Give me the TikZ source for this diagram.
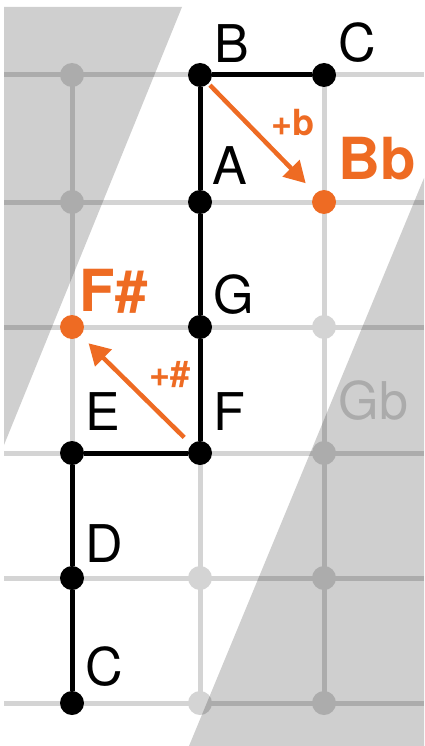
\documentclass[tikz,border=0pt]{standalone}
\usepackage{fontspec}
\setmainfont{TeX Gyre Heros}
\usetikzlibrary{arrows.meta,positioning}

\definecolor{gridgray}{HTML}{D4D4D4}
\definecolor{shadegray}{HTML}{CFCFCF}
\definecolor{noteorange}{HTML}{EE6B23}
\definecolor{fadegray}{HTML}{ABABAB}

\begin{document}
\begin{tikzpicture}[
  x=1pt, y=-1pt,
  node distance=4pt and 6pt,
  dot/.style={circle, fill=black, inner sep=0pt, minimum size=24pt},
  ghost/.style={dot, fill=gridgray},
  pick/.style={dot, fill=noteorange},
  gridline/.style={draw=gridgray, line width=5pt},
  walk/.style={draw=black, line width=5pt},
  arr/.style={-{Triangle[length=21pt,width=23pt]}, draw=noteorange, line width=4.5pt},
  note/.style={inner sep=0pt, font=\fontsize{52}{52}\selectfont},
  acc/.style={inner sep=0pt, text=noteorange, font=\fontsize{58}{58}\selectfont\bfseries},
  sign/.style={inner sep=0pt, text=noteorange, font=\fontsize{36}{36}\selectfont\bfseries}
]
\useasboundingbox (0,0) rectangle (424,746);

% grid
\foreach \r/\y in {1/75,2/202,3/327,4/453,5/578,6/703} {
  \coordinate (w\r) at (4,\y);
  \coordinate (e\r) at (424,\y);
  \draw[gridline] (w\r) -- (e\r);
}
\foreach \c/\x in {1/72,2/200,3/324} {
  \coordinate (t\c) at (\x,75);
  \coordinate (b\c) at (\x,703);
  \draw[gridline] (t\c) -- (b\c);
}
\foreach \n/\x/\y in {11/72/75, 12/72/202, 33/324/327, 34/324/453,
                      25/200/578, 35/324/578, 26/200/703, 36/324/703}
  \node[ghost] (g\n) at (\x,\y) {};

% shaded bands
\begin{scope}[blend mode=multiply]
  \fill[shadegray] (4,7) -- (182,7) -- (4,445) -- cycle;
  \fill[shadegray] (424,178) -- (424,746) -- (189,746) -- cycle;
\end{scope}

% scale walk
\node[dot] (c0) at (72,703) {};
\node[dot] (d)  at (72,578) {};
\node[dot] (e)  at (72,453) {};
\node[dot] (f)  at (200,453) {};
\node[dot] (g)  at (200,327) {};
\node[dot] (a)  at (200,202) {};
\node[dot] (b)  at (200,75) {};
\node[dot] (c1) at (324,75) {};
\draw[walk] (c0) -- (d) -- (e) -- (f) -- (g) -- (a) -- (b) -- (c1);

\node[note, above right=8pt and 5pt of c0] {C};
\node[note, above right=7pt and 5pt of d]  {D};
\node[note, above right=14pt and 5pt of e] {E};
\node[note, above right=14pt and 5pt of f] {F};
\node[note, above right=4pt and 5pt of g]  {G};
\node[note, above right=9pt and 4pt of a]  {A};
\node[note, above right=of b]  {B};
\node[note, above right=of c1] {C};

% accidentals
\node[pick] (bb) at (324,202) {};
\node[pick] (fs) at (72,327) {};
\node[acc, above right=13pt and 6pt of bb] {Bb};
\node[acc, above right=5pt and -1pt of fs] {F\#};
\node[note, text=fadegray, above right=24pt and 6pt of g34] {Gb};

\draw[arr, shorten <=2pt, shorten >=14pt] (b) -- (bb)
  node[sign, midway, anchor=south west, xshift=7pt] {+b};
\draw[arr, shorten <=10pt, shorten >=11pt] (f) -- (fs)
  node[sign, midway, anchor=south west, xshift=11pt] {+\#};

\end{tikzpicture}
\end{document}
